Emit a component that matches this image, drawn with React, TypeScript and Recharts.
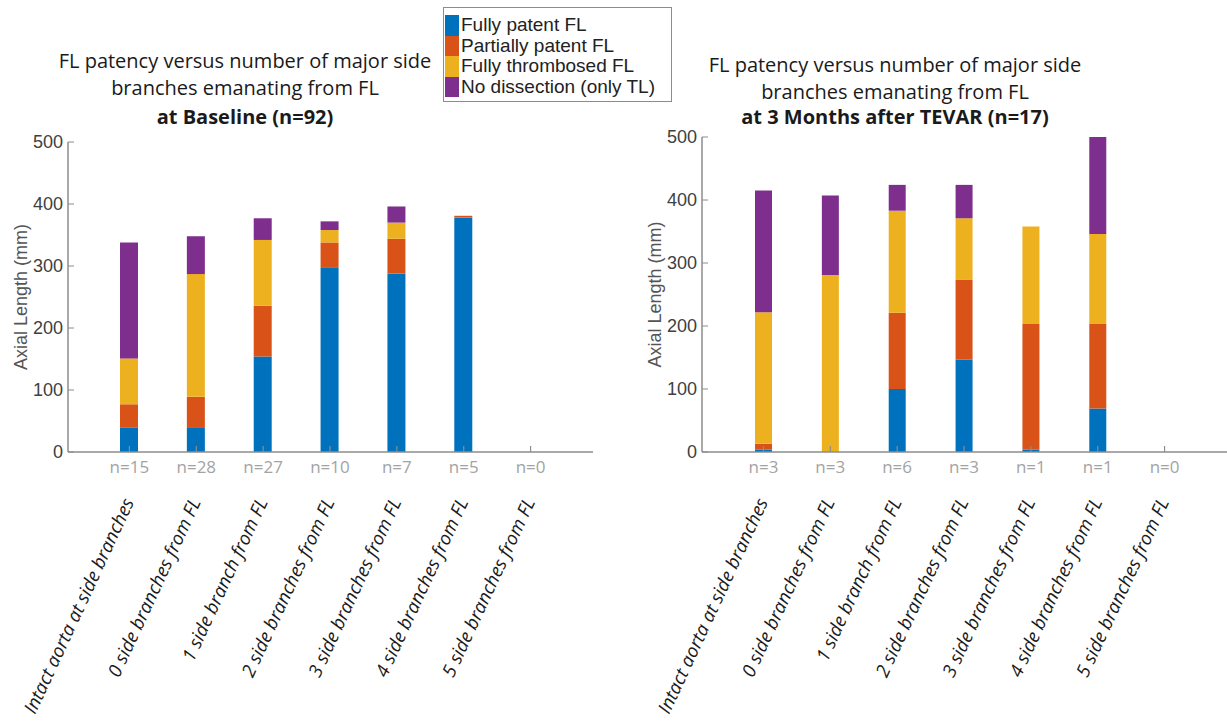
import { BarChart, Bar, XAxis, YAxis } from "recharts";

// categories along the x axis (same for both panels)
const categories = [
  "Intact aorta at side branches",
  "0 side branches from FL",
  "1 side branch from FL",
  "2 side branches from FL",
  "3 side branches from FL",
  "4 side branches from FL",
  "5 side branches from FL",
];

// baseline panel (n=92)
const baselineCounts = [15, 28, 27, 10, 7, 5, 0];
const baselinePatent = [39, 40, 154, 298, 288, 378, 0];
const baselinePartial = [38, 49, 82, 40, 56, 3, 0];
const baselineThrombosed = [74, 198, 106, 20, 26, 0, 0];
const baselineNoDissection = [187, 61, 35, 14, 26, 0, 0];

// 3 months after TEVAR panel (n=17)
const tevarCounts = [3, 3, 6, 3, 1, 1, 0];
const tevarPatent = [4, 0, 100, 147, 4, 69, 0];
const tevarPartial = [9, 0, 121, 127, 199, 134, 0];
const tevarThrombosed = [209, 281, 162, 97, 155, 143, 0];
const tevarNoDissection = [193, 126, 41, 53, 0, 154, 0];

const yTicks = [0, 100, 200, 300, 400, 500];

const seriesKeys = ["patent", "partial", "thrombosed", "none"];
const seriesNames = [
  "Fully patent FL",
  "Partially patent FL",
  "Fully thrombosed FL",
  "No dissection (only TL)",
];
const seriesColors = ["#0072BD", "#D95319", "#EDB120", "#7E2F8E"];

const AXIS = "#8c8c8c";
const TITLE_FONT = "'Open Sans', sans-serif";
const AXIS_FONT = "'Liberation Sans', Arial, sans-serif";

function buildRows(cols: number[][]) {
  return categories.map((name, i) => {
    const row: Record<string, any> = { name };
    seriesKeys.forEach((k, s) => (row[k] = cols[s][i]));
    return row;
  });
}

const baselineData = buildRows([
  baselinePatent,
  baselinePartial,
  baselineThrombosed,
  baselineNoDissection,
]);
const tevarData = buildRows([
  tevarPatent,
  tevarPartial,
  tevarThrombosed,
  tevarNoDissection,
]);

const makeTick = (counts: number[]) => (props: any) => {
  const { x, y, payload, index } = props;
  return (
    <g>
      <line x1={x} x2={x} y1={y} y2={y - 6} stroke={AXIS} strokeWidth={1.2} />
      <text
        x={x}
        y={y + 21}
        textAnchor="middle"
        fill="#a3a3a3"
        fontSize={17}
        fontFamily={TITLE_FONT}
      >
        n={counts[index]}
      </text>
      <text
        transform={`translate(${x + 5},${y + 50}) rotate(-65)`}
        textAnchor="end"
        fontStyle="italic"
        fontSize={18.5}
        fontFamily={TITLE_FONT}
        fill="#1a1a1a"
      >
        {payload.value}
      </text>
    </g>
  );
};

const yLabel = (props: any) => {
  const vb = props.viewBox;
  const cx = vb.x + 21;
  const cy = vb.y + vb.height / 2;
  return (
    <text
      x={cx}
      y={cy}
      transform={`rotate(-90,${cx},${cy})`}
      textAnchor="middle"
      dominantBaseline="central"
      fontSize={18}
      fontFamily={AXIS_FONT}
      fill="#555"
    >
      Axial Length (mm)
    </text>
  );
};

type PanelProps = {
  data: any[];
  counts: number[];
  left: number;
  width: number;
  top: number;
  right: number;
  barSize: number;
};

function Panel({ data, counts, left, width, top, right, barSize }: PanelProps) {
  return (
    <div style={{ position: "absolute", left, top: 0 }}>
      <BarChart
        width={width}
        height={726}
        data={data}
        margin={{ top, right, bottom: 244, left: 0 }}
      >
        <XAxis
          dataKey="name"
          height={30}
          interval={0}
          padding={{ left: 28, right: 29 }}
          axisLine={{ stroke: AXIS, strokeWidth: 1.5 }}
          tickLine={false}
          tickSize={0}
          tickMargin={0}
          tick={makeTick(counts)}
        />
        <YAxis
          width={68}
          domain={[0, 500]}
          ticks={yTicks}
          interval={0}
          axisLine={{ stroke: AXIS, strokeWidth: 1.5 }}
          tickLine={{ stroke: AXIS }}
          tickSize={-6}
          tickMargin={11}
          tick={{ fill: "#404040", fontSize: 18, fontFamily: AXIS_FONT }}
          label={yLabel}
        />
        {seriesKeys.map((k, s) => (
          <Bar
            key={k}
            dataKey={k}
            name={seriesNames[s]}
            stackId="a"
            fill={seriesColors[s]}
            barSize={barSize}
            isAnimationActive={false}
          />
        ))}
      </BarChart>
    </div>
  );
}

function Title({ center, lines, tops }: { center: number; lines: string[]; tops: number[] }) {
  return (
    <>
      {lines.map((t, i) => (
        <div
          key={i}
          style={{
            position: "absolute",
            left: center - 250,
            width: 500,
            top: tops[i],
            lineHeight: "28px",
            textAlign: "center",
            fontFamily: TITLE_FONT,
            fontSize: 20,
            fontWeight: i === 2 ? 700 : 400,
            color: "#1a1a1a",
            whiteSpace: "nowrap",
          }}
        >
          {t}
        </div>
      ))}
    </>
  );
}

export default function App() {
  return (
    <div
      style={{
        position: "absolute",
        left: 0,
        top: 0,
        width: 1227,
        height: 726,
        background: "#fff",
        overflow: "hidden",
      }}
    >
      <Title
        center={245}
        tops={[47, 74, 103]}
        lines={[
          "FL patency versus number of major side",
          "branches emanating from FL",
          "at Baseline (n=92)",
        ]}
      />
      <Title
        center={895}
        tops={[51, 78, 103]}
        lines={[
          "FL patency versus number of major side",
          "branches emanating from FL",
          "at 3 Months after TEVAR (n=17)",
        ]}
      />
      <Panel
        data={baselineData}
        counts={baselineCounts}
        left={0}
        width={600}
        top={142}
        right={7}
        barSize={18}
      />
      <Panel
        data={tevarData}
        counts={tevarCounts}
        left={634}
        width={593}
        top={137}
        right={0}
        barSize={17}
      />
      <div
        style={{
          position: "absolute",
          left: 443,
          top: 7,
          width: 229,
          height: 95,
          border: "1px solid #8c8c8c",
          background: "#fff",
          paddingTop: 7,
          paddingLeft: 1,
          boxSizing: "border-box",
        }}
      >
        {seriesNames.map((n, i) => (
          <div key={n} style={{ display: "flex", alignItems: "center", height: 20.5 }}>
            <div style={{ width: 14, height: 20.5, background: seriesColors[i] }} />
            <span
              style={{
                marginLeft: 2,
                fontFamily: AXIS_FONT,
                fontSize: 19,
                color: "#222",
                whiteSpace: "nowrap",
              }}
            >
              {n}
            </span>
          </div>
        ))}
      </div>
    </div>
  );
}
